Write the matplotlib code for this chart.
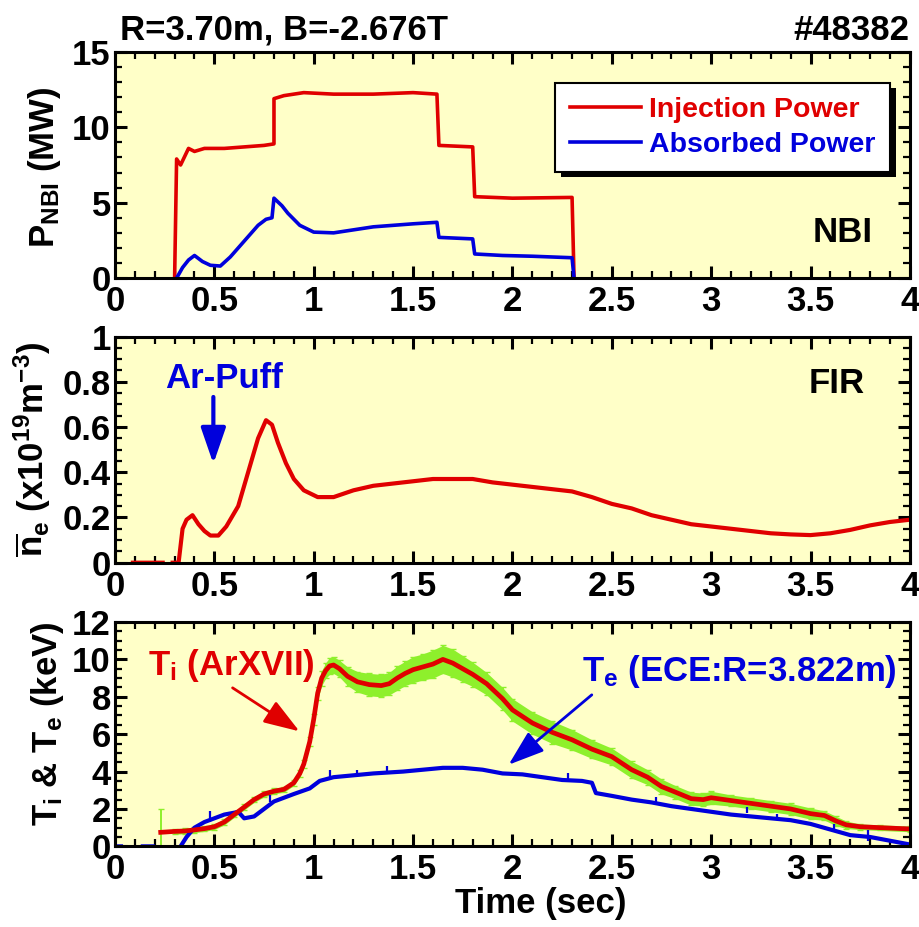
import numpy as np
import matplotlib
matplotlib.use('Agg')
import matplotlib.pyplot as plt
from matplotlib.ticker import MultipleLocator, FuncFormatter
from matplotlib import patheffects

nan = np.nan

# NBI powers (MW)
inj_t = [0.30, 0.31, 0.33, 0.37, 0.40, 0.45, 0.55, 0.65, 0.75, 0.80, 0.80, 0.85, 0.95,
         1.10, 1.30, 1.50, 1.62, 1.63, 1.80, 1.81, 2.00, 2.30, 2.31]
inj_p = [0.0, 7.9, 7.5, 8.6, 8.4, 8.6, 8.6, 8.7, 8.8, 8.9, 11.9, 12.1, 12.3,
         12.2, 12.2, 12.3, 12.2, 8.8, 8.7, 5.4, 5.3, 5.35, 0.0]
abs_t = [0.31, 0.34, 0.37, 0.40, 0.44, 0.48, 0.53, 0.58, 0.62, 0.66, 0.72, 0.76, 0.79,
         0.80, 0.84, 0.87, 0.93, 1.00, 1.10, 1.20, 1.30, 1.40, 1.50, 1.62, 1.63, 1.80,
         1.81, 1.95, 2.10, 2.30, 2.31]
abs_p = [0.0, 0.7, 1.2, 1.5, 1.1, 0.85, 0.8, 1.4, 2.0, 2.6, 3.5, 3.9, 4.0,
         5.3, 4.8, 4.3, 3.5, 3.05, 3.0, 3.2, 3.4, 3.5, 3.6, 3.7, 2.7, 2.6,
         1.6, 1.5, 1.45, 1.35, 0.0]

# line averaged density (1e19 m^-3)
ne_t = [0.09, 0.24, nan, 0.29, 0.32, 0.34, 0.36, 0.39, 0.42, 0.45, 0.48, 0.52, 0.56,
        0.62, 0.67, 0.72, 0.76, 0.79, 0.82, 0.86, 0.90, 0.95, 1.02, 1.10, 1.20, 1.30,
        1.40, 1.50, 1.60, 1.70, 1.80, 1.90, 2.00, 2.10, 2.20, 2.30, 2.40, 2.50, 2.60,
        2.70, 2.80, 2.90, 3.00, 3.10, 3.20, 3.30, 3.40, 3.50, 3.60, 3.70, 3.80, 3.90, 4.00]
ne_v = [0.0, 0.0, nan, 0.0, 0.0, 0.15, 0.19, 0.21, 0.17, 0.14, 0.12, 0.12, 0.16,
        0.25, 0.40, 0.55, 0.63, 0.61, 0.53, 0.44, 0.37, 0.32, 0.29, 0.29, 0.32, 0.34,
        0.35, 0.36, 0.37, 0.37, 0.37, 0.355, 0.345, 0.335, 0.325, 0.315, 0.29, 0.26, 0.24,
        0.21, 0.19, 0.17, 0.16, 0.15, 0.14, 0.13, 0.125, 0.122, 0.13, 0.145, 0.165, 0.18, 0.19]

# ion temperature from ArXVII (keV) with uncertainty
ti_t = [0.23, 0.30, 0.35, 0.40, 0.45, 0.50, 0.55, 0.60, 0.65, 0.70, 0.75, 0.80, 0.85,
        0.90, 0.93, 0.95, 0.98, 1.00, 1.02, 1.04, 1.06, 1.08, 1.10, 1.13, 1.17, 1.22,
        1.28, 1.34, 1.38, 1.42, 1.46, 1.50, 1.55, 1.60, 1.65, 1.70, 1.75, 1.80, 1.87,
        1.95, 2.00, 2.10, 2.20, 2.30, 2.40, 2.50, 2.60, 2.68, 2.75, 2.82, 2.90, 2.96,
        3.00, 3.10, 3.20, 3.30, 3.40, 3.50, 3.57, 3.63, 3.68, 3.75, 3.85, 4.00]
ti_v = [0.75, 0.80, 0.82, 0.88, 0.95, 1.05, 1.30, 1.70, 2.10, 2.50, 2.80, 2.95, 3.05,
        3.40, 3.90, 4.40, 5.60, 6.80, 8.20, 9.00, 9.40, 9.65, 9.70, 9.50, 9.10, 8.80,
        8.65, 8.60, 8.70, 9.00, 9.25, 9.45, 9.60, 9.75, 10.0, 9.80, 9.50, 9.20, 8.70,
        7.90, 7.30, 6.60, 6.10, 5.70, 5.20, 4.80, 4.10, 3.70, 3.20, 2.90, 2.55, 2.50,
        2.60, 2.45, 2.30, 2.15, 2.00, 1.75, 1.65, 1.35, 1.15, 1.05, 1.00, 0.93]
ti_e = [1.25, 0.15, 0.15, 0.15, 0.15, 0.15, 0.15, 0.15, 0.15, 0.15, 0.15, 0.15, 0.15,
        0.15, 0.2, 0.2, 0.25, 0.3, 0.35, 0.4, 0.42, 0.45, 0.45, 0.45, 0.5, 0.55,
        0.6, 0.6, 0.6, 0.65, 0.65, 0.7, 0.7, 0.75, 0.75, 0.75, 0.7, 0.65, 0.6,
        0.6, 0.6, 0.6, 0.6, 0.55, 0.5, 0.45, 0.45, 0.4, 0.4, 0.35, 0.35, 0.35,
        0.35, 0.3, 0.3, 0.3, 0.3, 0.3, 0.25, 0.25, 0.2, 0.15, 0.15, 0.15]

# electron temperature from ECE at R=3.822m (keV)
te_t = [0.01, 0.03, nan, 0.14, 0.19, nan, 0.33, 0.36, 0.40, 0.45, 0.50, 0.55, 0.60,
        0.62, 0.65, 0.70, 0.75, 0.80, 0.85, 0.90, 0.98, 1.03, 1.10, 1.20, 1.30, 1.45,
        1.55, 1.65, 1.75, 1.85, 1.95, 2.05, 2.15, 2.25, 2.35, 2.40, 2.42, 2.50, 2.60,
        2.70, 2.80, 2.90, 3.00, 3.10, 3.20, 3.30, 3.40, 3.50, 3.60, 3.70, 3.80, 3.90, 4.00]
te_v = [0.0, 0.0, nan, 0.0, 0.0, nan, 0.0, 0.5, 1.0, 1.3, 1.5, 1.7, 1.8,
        1.85, 1.5, 1.6, 2.0, 2.4, 2.6, 2.8, 3.1, 3.5, 3.7, 3.8, 3.9, 4.0,
        4.1, 4.2, 4.2, 4.1, 3.9, 3.85, 3.7, 3.55, 3.5, 3.4, 2.85, 2.7, 2.5,
        2.35, 2.15, 2.0, 1.85, 1.7, 1.6, 1.5, 1.4, 1.2, 0.9, 0.6, 0.5, 0.3, 0.1]
te_bar_t = [0.48, 0.78, 1.08, 1.22, 1.37, 2.28, 2.72, 3.18, 3.33, 3.62, 3.79]
te_bar_v = [1.6, 2.55, 3.8, 3.9, 4.1, 3.75, 2.5, 1.95, 1.6, 1.0, 0.6]
te_bar_e = [0.3, 0.2, 0.27, 0.2, 0.22, 0.2, 0.15, 0.17, 0.12, 0.18, 0.3]

RED = '#E00000'
BLUE = '#0000DC'
GREEN = '#8EF02C'
BG = '#FFFFC8'

plt.rcParams['font.family'] = ['Liberation Sans', 'DejaVu Sans']
plt.rcParams['font.weight'] = 'bold'
plt.rcParams['axes.labelweight'] = 'bold'
plt.rcParams['mathtext.fontset'] = 'custom'
plt.rcParams['mathtext.rm'] = 'Liberation Sans:bold'
plt.rcParams['mathtext.it'] = 'Liberation Sans:bold'
plt.rcParams['mathtext.bf'] = 'Liberation Sans:bold'
plt.rcParams['mathtext.default'] = 'bf'

fig = plt.figure(figsize=(9.2, 9.27), dpi=100)
ax1 = fig.add_axes([0.125, 0.700, 0.864, 0.244])
ax2 = fig.add_axes([0.125, 0.393, 0.864, 0.244])
ax3 = fig.add_axes([0.125, 0.087, 0.864, 0.242])

fmt = FuncFormatter(lambda v, p: '%g' % v)
for ax in (ax1, ax2, ax3):
    ax.set_facecolor(BG)
    ax.set_xlim(0, 4)
    ax.xaxis.set_major_locator(MultipleLocator(0.5))
    ax.xaxis.set_minor_locator(MultipleLocator(0.1))
    ax.xaxis.set_major_formatter(fmt)
    ax.yaxis.set_major_formatter(fmt)
    ax.tick_params(which='both', direction='in', top=True, right=True)
    ax.tick_params(which='major', length=8.5, width=2.2, labelsize=25, pad=5)
    ax.tick_params(which='minor', length=5, width=1.6)
    ax.tick_params(axis='y', pad=3)
    for sp in ax.spines.values():
        sp.set_linewidth(2.2)

# NBI panel
ax1.plot(inj_t, inj_p, color=RED, lw=2.6, label='Injection Power')
ax1.plot(abs_t, abs_p, color=BLUE, lw=2.6, label='Absorbed Power')
ax1.set_ylim(0, 15)
ax1.yaxis.set_major_locator(MultipleLocator(5))
ax1.yaxis.set_minor_locator(MultipleLocator(1))
ax1.set_ylabel(r'P$_{NBI}$ (MW)', fontsize=25)
ax1.yaxis.set_label_coords(-0.066, 0.49)
leg = ax1.legend(loc='upper right', bbox_to_anchor=(0.975, 0.863), borderaxespad=0,
                 fontsize=20.5, handlelength=2.5, handletextpad=0.3, labelspacing=0.3,
                 borderpad=0.5, fancybox=False, framealpha=1, edgecolor='black')
leg.get_frame().set_linewidth(1.5)
leg.get_frame().set_path_effects([patheffects.SimplePatchShadow(offset=(4, -4), shadow_rgbFace='k', alpha=1),
                                  patheffects.Normal()])
for txt, line in zip(leg.get_texts(), leg.get_lines()):
    txt.set_color(line.get_color())
ax1.text(0.953, 0.159, 'NBI', transform=ax1.transAxes, ha='right', va='baseline', fontsize=25)

# density panel
ax2.plot(ne_t, ne_v, color=RED, lw=3.0)
ax2.set_ylim(0, 1)
ax2.yaxis.set_major_locator(MultipleLocator(0.2))
ax2.yaxis.set_minor_locator(MultipleLocator(0.05))
ax2.set_ylabel(r'$\overline{n}_e$ (x10$^{19}$m$^{-3}$)', fontsize=25)
ax2.yaxis.set_label_coords(-0.078, 0.5)
ax2.text(0.943, 0.751, 'FIR', transform=ax2.transAxes, ha='right', va='baseline', fontsize=25)
ax2.text(0.25, 0.773, 'Ar-Puff', color=BLUE, ha='left', va='baseline', fontsize=25)
ax2.annotate('', xy=(0.495, 0.425), xytext=(0.495, 0.745),
             arrowprops=dict(arrowstyle='-|>,head_length=1.1,head_width=0.38',
                             mutation_scale=20, color=BLUE, lw=3))

# temperature panel
ti_lo = np.array(ti_v) - np.array(ti_e)
ti_hi = np.array(ti_v) + np.array(ti_e)
ax3.fill_between(ti_t[1:], ti_lo[1:], ti_hi[1:], color=GREEN, lw=0)
ax3.errorbar(ti_t, ti_v, yerr=ti_e, fmt='none', ecolor=GREEN, elinewidth=1.4, capsize=2.5)
ax3.errorbar(te_bar_t, te_bar_v, yerr=te_bar_e, fmt='none', ecolor=BLUE, elinewidth=1.6, capsize=0)
ax3.plot(te_t, te_v, color=BLUE, lw=3.0)
ax3.plot(ti_t, ti_v, color=RED, lw=3.4)
ax3.set_ylim(0, 12)
ax3.yaxis.set_major_locator(MultipleLocator(2))
ax3.yaxis.set_minor_locator(MultipleLocator(0.5))
ax3.set_ylabel(r'T$_i$ & T$_e$ (keV)', fontsize=25)
ax3.yaxis.set_label_coords(-0.062, 0.545)
ax3.set_xlabel('Time (sec)', fontsize=25)
ax3.xaxis.set_label_coords(0.535, -0.18)
ax3.text(0.166, 9.18, r'T$_i$ (ArXVII)', color=RED, ha='left', va='baseline', fontsize=25)
ax3.annotate('', xy=(0.94, 6.07), xytext=(0.58, 8.56),
             arrowprops=dict(arrowstyle='-|>,head_length=1.1,head_width=0.38',
                             mutation_scale=20, color=RED, lw=2))
ax3.text(2.35, 8.82, r'T$_e$ (ECE:R=3.822m)', color=BLUE, ha='left', va='baseline', fontsize=25)
ax3.annotate('', xy=(1.97, 4.27), xytext=(2.41, 8.2),
             arrowprops=dict(arrowstyle='-|>,head_length=1.1,head_width=0.38',
                             mutation_scale=20, color=BLUE, lw=2))

fig.text(0.130, 0.957, 'R=3.70m, B=-2.676T', ha='left', va='baseline', fontsize=25)
fig.text(0.988, 0.957, '#48382', ha='right', va='baseline', fontsize=25)

fig.savefig('out.png', dpi=100, facecolor='white')
